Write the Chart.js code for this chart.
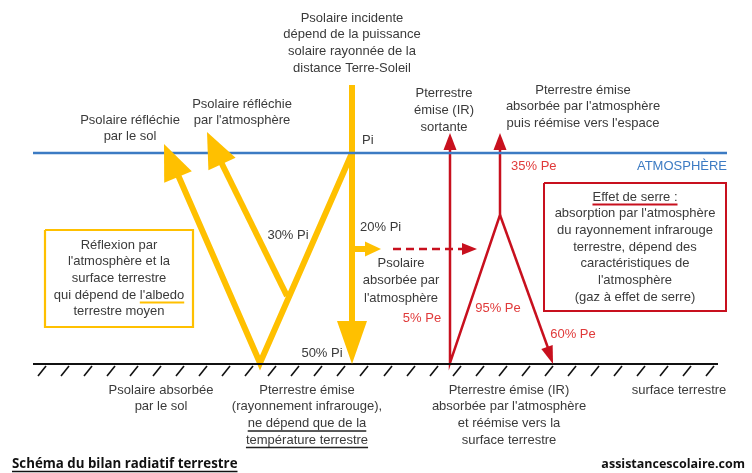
<!DOCTYPE html>
<html><head><meta charset="utf-8">
<script src="https://cdn.jsdelivr.net/npm/chart.js@4.4.1/dist/chart.umd.min.js"></script>
<style>html,body{margin:0;padding:0;background:#fff}canvas{display:block}</style>
</head><body>
<canvas id="c" width="752" height="473"></canvas>
<script>
// ---- diagram data (picture units) ----
const atmosphereLine = [[33,153],[727,153]];
const groundLine = [[33,364],[718,364]];
const hatchX = [38,61,84,107,130,153,176,199,222,245,268,291,314,337,360,384,407,430,453,476,499,522,545,568,591,614,637,660,683,706];
const yellowIncident = [[352,85],[352,322]];
const yellowV = [[352,153],[260,363],[178,175]];
const yellowAtmReflect = [[287,296],[221,162]];
const yellowAbsorbAtm = [[352,249],[366,249]];
const redPath = [[450,149],[450,363],[500,215],[500,149]];
const redDown = [[500,215],[548,348]];
const redDashed = [[393,249],[463,249]];
const yellowBox = [[45,230],[193,230],[193,327],[45,327],[45,230]];
const redBox = [[544,183],[726,183],[726,311],[544,311],[544,183]];
// arrowheads: tip, base, half-width
const arrowTips = [
  {tip:[352,364], base:[352,321], half:15, c:'yellow'},
  {tip:[164,144], base:[178,177], half:15, c:'yellow'},
  {tip:[207,132], base:[222,164], half:15, c:'yellow'},
  {tip:[381,249], base:[365,249], half:7.5, c:'yellow'},
  {tip:[450,133], base:[450,150], half:6.5, c:'red'},
  {tip:[500,133], base:[500,150], half:6.5, c:'red'},
  {tip:[553,364], base:[547,347], half:6, c:'red'},
  {tip:[477,249], base:[462,249], half:6, c:'red'}
];
// texts
const txtIncident = ["Psolaire incidente","dépend de la puissance","solaire rayonnée de la","distance Terre-Soleil"];
const txtReflSol = ["Psolaire réfléchie","par le sol"];
const txtReflAtm = ["Psolaire réfléchie","par l'atmosphère"];
const txtSortante = ["Pterrestre","émise (IR)","sortante"];
const txtReemise = ["Pterrestre émise","absorbée par l'atmosphère","puis réémise vers l'espace"];
const txtSerre = ["Effet de serre :","absorption par l'atmosphère","du rayonnement infrarouge","terrestre, dépend des","caractéristiques de","l'atmosphère","(gaz à effet de serre)"];
const txtAbsAtm = ["Psolaire","absorbée par","l'atmosphère"];
const txtReflexion = ["Réflexion par","l'atmosphère et la","surface terrestre","qui dépend de l'albedo","terrestre moyen"];
const txtAbsSol = ["Psolaire absorbée","par le sol"];
const txtEmise = ["Pterrestre émise","(rayonnement infrarouge),","ne dépend que de la","température terrestre"];
const txtEmiseIR = ["Pterrestre émise (IR)","absorbée par l'atmosphère","et réémise vers la","surface terrestre"];
const pctLabels = ["Pi","30% Pi","20% Pi","50% Pi","35% Pe","5% Pe","95% Pe","60% Pe"];
const titleText = "Schéma du bilan radiatif terrestre";
const siteText = "assistancescolaire.com";

// ---- styles / layout ----
const COL = {yellow:'#FFC000', red:'#C8101E', redText:'#E03A3A', blue:'#3C7BC3', text:'#3a3a3a', black:'#222'};
const F = "13px 'Liberation Sans', Arial, sans-serif";
const labels = [
  {lines:txtIncident, x:352, y:18, lh:16.7},
  {lines:txtReflSol, x:130, y:120, lh:16.7},
  {lines:txtReflAtm, x:242, y:104, lh:16.7},
  {lines:[pctLabels[0]], x:362, y:140, align:'left'},
  {lines:txtSortante, x:444, y:93, lh:17},
  {lines:txtReemise, x:583, y:90, lh:16.8},
  {lines:[pctLabels[4]], x:511, y:166, align:'left', color:COL.redText},
  {lines:["ATMOSPHÈRE"], x:727, y:166, align:'right', color:COL.blue},
  {lines:txtSerre, x:635, y:197, lh:16.7, ul:[{line:0, prefix:'', word:"Effet de serre :", color:COL.red, w:2}]},
  {lines:[pctLabels[1]], x:288, y:235},
  {lines:[pctLabels[2]], x:360, y:227, align:'left'},
  {lines:txtAbsAtm, x:401, y:263, lh:17.5},
  {lines:[pctLabels[5]], x:422, y:318, color:COL.redText},
  {lines:[pctLabels[6]], x:498, y:308, color:COL.redText},
  {lines:[pctLabels[7]], x:573, y:334, color:COL.redText},
  {lines:[pctLabels[3]], x:322, y:353},
  {lines:txtReflexion, x:119, y:245, lh:16.7, ul:[{line:3, prefix:"qui dépend de ", word:"l'albedo", color:COL.yellow, w:2}]},
  {lines:txtAbsSol, x:161, y:390, lh:16.7},
  {lines:txtEmise, x:307, y:390, lh:16.7, ul:[{line:2, prefix:'', word:txtEmise[2], color:COL.black, w:1.5},{line:3, prefix:'', word:txtEmise[3], color:COL.black, w:1.5}]},
  {lines:txtEmiseIR, x:509, y:390, lh:16.7},
  {lines:["surface terrestre"], x:679, y:390},
  {lines:[titleText], x:12, y:464, align:'left', font:"bold 13.3px 'Open Sans', sans-serif", color:'#111', ul:[{line:0, prefix:'', word:titleText, color:'#111', w:1.5}]},
  {lines:[siteText], x:745, y:464, align:'right', font:"bold 12.5px 'Open Sans', sans-serif", color:'#111'}
];

const pts = a => a.map(p => ({x:p[0], y:p[1]}));
const seg = (a, color, width, extra) => Object.assign({type:'line', data:pts(a), borderColor:color, borderWidth:width, pointRadius:0, fill:false, tension:0, borderJoinStyle:'miter', borderCapStyle:'butt', showLine:true}, extra||{});

const datasets = [
  seg(atmosphereLine, COL.blue, 2.5),
  seg(groundLine, '#111', 2),
  ...hatchX.map(h => seg([[h,376],[h+8,366]], '#111', 1.6)),
  seg(yellowBox, COL.yellow, 2.2),
  seg(redBox, COL.red, 2),
  seg(yellowIncident, COL.yellow, 6),
  seg(yellowV, COL.yellow, 6),
  seg(yellowAtmReflect, COL.yellow, 6),
  seg(yellowAbsorbAtm, COL.yellow, 6),
  seg(redPath, COL.red, 2.5),
  seg(redDown, COL.red, 2.5),
  seg(redDashed, COL.red, 2.5, {borderDash:[8,5]})
];

const arrowPlugin = {id:'arrows', afterDatasetsDraw(chart){
  const {ctx, scales:{x, y}} = chart;
  arrowTips.forEach(a => {
    const tx=x.getPixelForValue(a.tip[0]), ty=y.getPixelForValue(a.tip[1]);
    const bx=x.getPixelForValue(a.base[0]), by=y.getPixelForValue(a.base[1]);
    const dx=tx-bx, dy=ty-by, L=Math.hypot(dx,dy), px=-dy/L*a.half, py=dx/L*a.half;
    ctx.save(); ctx.fillStyle = COL[a.c];
    ctx.beginPath(); ctx.moveTo(tx,ty); ctx.lineTo(bx+px,by+py); ctx.lineTo(bx-px,by-py); ctx.closePath(); ctx.fill(); ctx.restore();
  });
}};
const textPlugin = {id:'texts', afterDraw(chart){
  const {ctx, scales:{x, y}} = chart;
  labels.forEach(l => {
    ctx.save();
    ctx.font = l.font || F; ctx.fillStyle = l.color || COL.text;
    ctx.textAlign = l.align || 'center'; ctx.textBaseline = 'middle';
    l.lines.forEach((t,i) => {
      const px = x.getPixelForValue(l.x), py = y.getPixelForValue(l.y + i*(l.lh||16.7));
      ctx.fillText(t, px, py);
      (l.ul||[]).filter(u => u.line===i).forEach(u => {
        const W = ctx.measureText(t).width;
        const left = ctx.textAlign==='center' ? px-W/2 : ctx.textAlign==='right' ? px-W : px;
        const s = left + ctx.measureText(u.prefix).width, w = ctx.measureText(u.word).width;
        ctx.save(); ctx.strokeStyle=u.color; ctx.lineWidth=u.w; ctx.beginPath();
        ctx.moveTo(s, py+7.5); ctx.lineTo(s+w, py+7.5); ctx.stroke(); ctx.restore();
      });
    });
    ctx.restore();
  });
}};

new Chart(document.getElementById('c'), {
  type:'scatter',
  data:{datasets},
  options:{
    responsive:false, animation:false, events:[],
    layout:{padding:0},
    plugins:{legend:{display:false}, tooltip:{enabled:false}},
    scales:{
      x:{type:'linear', min:0, max:752, display:false},
      y:{type:'linear', min:0, max:473, reverse:true, display:false}
    }
  },
  plugins:[arrowPlugin, textPlugin]
});
</script>
</body></html>
